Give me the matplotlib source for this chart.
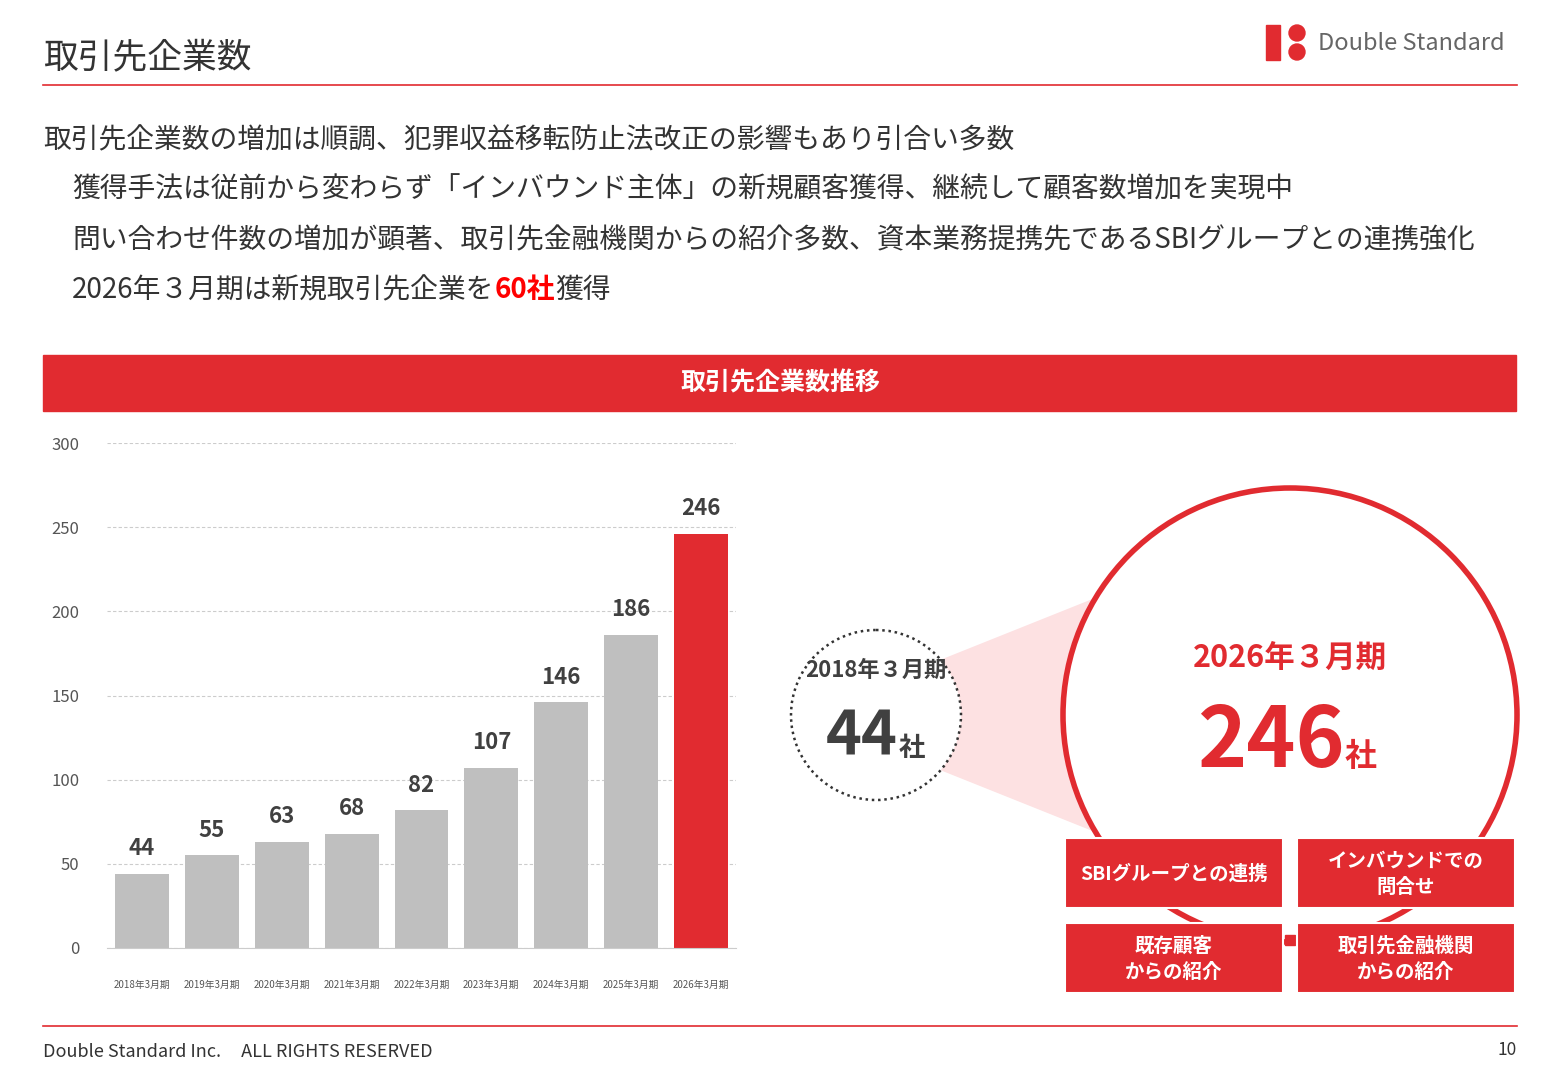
import matplotlib
matplotlib.use("Agg")
import matplotlib.pyplot as plt
from matplotlib.patches import Rectangle, Circle, Polygon

plt.rcParams['font.family'] = ['Noto Sans CJK JP', 'DejaVu Sans']

categories = ["2018年3月期", "2019年3月期", "2020年3月期", "2021年3月期", "2022年3月期",
              "2023年3月期", "2024年3月期", "2025年3月期", "2026年3月期"]
values = [44, 55, 63, 68, 82, 107, 146, 186, 246]
yticks = [0, 50, 100, 150, 200, 250, 300]

RED = "#E12B30"
GRAY = "#BFBFBF"
DARK = "#404040"

fig = plt.figure(figsize=(15.6, 10.8), dpi=100)
bg = fig.add_axes([0, 0, 1, 1])
bg.set_xlim(0, 1560); bg.set_ylim(1080, 0); bg.axis("off")

# header
bg.text(43, 58, "取引先企業数", fontsize=25, color="#333333", va="center")
bg.plot([43, 1517], [85, 85], color=RED, lw=1.2)
bg.add_patch(Rectangle((1266, 25), 14, 35, color=RED))
bg.add_patch(Circle((1297, 33), 8, color=RED))
bg.add_patch(Circle((1297, 52), 8, color=RED))
bg.text(1318, 43, "Double Standard", fontsize=17, color="#666666", va="center")

FS = 20
lines = [(43, "取引先企業数の増加は順調、犯罪収益移転防止法改正の影響もあり引合い多数"),
         (72, "獲得手法は従前から変わらず「インバウンド主体」の新規顧客獲得、継続して顧客数増加を実現中"),
         (72, "問い合わせ件数の増加が顕著、取引先金融機関からの紹介多数、資本業務提携先であるSBIグループとの連携強化")]
for i, (xx, l) in enumerate(lines):
    bg.text(xx, 140 + 50 * i, l, fontsize=FS, color="#333333", va="center")
t = bg.text(72, 290, "2026年３月期は新規取引先企業を", fontsize=FS, color="#333333", va="center")
fig.canvas.draw()
x1 = t.get_window_extent().x1
t2 = bg.text(x1, 290, "60社", fontsize=FS, color="red", weight="bold", va="center")
fig.canvas.draw()
bg.text(t2.get_window_extent().x1, 290, "獲得", fontsize=FS, color="#333333", va="center")

bg.add_patch(Rectangle((43, 355), 1473, 56, color=RED))
bg.text(780, 383, "取引先企業数推移", fontsize=18, color="white", weight="bold", ha="center", va="center")

# footer
bg.plot([43, 1517], [1026, 1026], color=RED, lw=1.2)
bg.text(43, 1052, "Double Standard Inc.     ALL RIGHTS RESERVED", fontsize=13, color="#333333", va="center")
bg.text(1517, 1050, "10", fontsize=12.5, color="#333333", va="center", ha="right")

# right side graphic
bg.add_patch(Polygon([(940, 660), (1095, 598), (1095, 832), (940, 770)], color="#FDE1E2", lw=0))
bg.add_patch(Circle((1290, 715), 227, facecolor="white", edgecolor=RED, lw=4))
bg.add_patch(Circle((876, 715), 85, facecolor="white", edgecolor="#333333", lw=1.8, ls=(0, (1, 1.5))))
bg.text(876, 670, "2018年３月期", fontsize=16, weight="bold", color=DARK, ha="center", va="center")
bg.text(898, 738, "44", fontsize=44, weight="bold", color=DARK, ha="right", va="center")
bg.text(899, 748, "社", fontsize=19, weight="bold", color=DARK, ha="left", va="center")
bg.text(1290, 658, "2026年３月期", fontsize=22, weight="bold", color=RED, ha="center", va="center")
bg.text(1345, 742, "246", fontsize=60, weight="bold", color=RED, ha="right", va="center")
bg.text(1345, 757, "社", fontsize=23, weight="bold", color=RED, ha="left", va="center")

bg.add_patch(Rectangle((1285, 935), 10, 10, color=RED))
boxes = [((1065, 838), "SBIグループとの連携"), ((1297, 838), "インバウンドでの\n問合せ"),
         ((1065, 923), "既存顧客\nからの紹介"), ((1297, 923), "取引先金融機関\nからの紹介")]
for (x, y), s in boxes:
    bg.add_patch(Rectangle((x, y), 218, 70, facecolor=RED, edgecolor="white", lw=1.5))
    bg.text(x + 109, y + 36, s, fontsize=14, weight="bold", color="white", ha="center", va="center", linespacing=1.5)

# bar chart
ax = fig.add_axes([107 / 1560, 132 / 1080, 629 / 1560, 505 / 1080])
colors = [GRAY] * (len(values) - 1) + [RED]
x = range(len(values))
ax.bar(x, values, width=0.77, color=colors, zorder=2)
for xi, v in zip(x, values):
    ax.text(xi, v + 8, str(v), ha="center", va="bottom", fontsize=16, weight="bold", color=DARK)
ax.set_xlim(-0.5, len(values) - 0.5)
ax.set_ylim(0, 300)
ax.set_yticks(yticks)
ax.set_yticklabels([str(t) for t in yticks], fontsize=12, color="#555555")
ax.tick_params(axis="y", length=0, pad=20)
ax.set_xticks(list(x))
ax.set_xticklabels(categories, fontsize=7, color="#555555")
ax.tick_params(axis="x", length=0, pad=23)
ax.grid(axis="y", color="#CCCCCC", ls=(0, (3, 2)), lw=0.8, zorder=0)
for s in ["top", "right", "left"]:
    ax.spines[s].set_visible(False)
ax.spines["bottom"].set_color("#CCCCCC")
ax.set_facecolor("none")

fig.savefig("out.png", dpi=100)
